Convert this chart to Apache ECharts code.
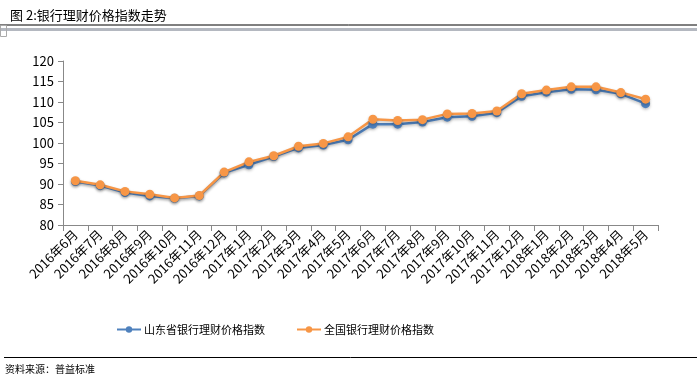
<!DOCTYPE html>
<html><head><meta charset="utf-8">
<script src="https://cdn.jsdelivr.net/npm/echarts@6/dist/echarts.min.js"></script>
<style>html,body{margin:0;padding:0;background:#fff}#c{width:697px;height:387px}</style>
</head><body><div id="c"></div>
<script>
const categories = ['2016年6月','2016年7月','2016年8月','2016年9月','2016年10月','2016年11月','2016年12月','2017年1月','2017年2月','2017年3月','2017年4月','2017年5月','2017年6月','2017年7月','2017年8月','2017年9月','2017年10月','2017年11月','2017年12月','2018年1月','2018年2月','2018年3月','2018年4月','2018年5月'];
const shandong = [90.6,89.6,87.9,87.1,86.5,87.1,92.7,94.7,96.7,98.8,99.5,100.8,104.6,104.6,105.1,106.3,106.5,107.4,111.4,112.4,113.1,113.0,112.0,109.6];
const national = [90.8,89.8,88.2,87.5,86.6,87.2,92.9,95.4,96.9,99.2,99.9,101.5,105.8,105.5,105.7,107.1,107.2,107.8,112.0,112.9,113.7,113.7,112.3,110.7];
const yTicks = [80,85,90,95,100,105,110,115,120];
const seriesNames = ['山东省银行理财价格指数','全国银行理财价格指数'];
const titleText = '图 2:银行理财价格指数走势';
const sourceText = '资料来源：普益标准';

const font = '"Noto Sans CJK SC","Microsoft YaHei",sans-serif';
const chart = echarts.init(document.getElementById('c'));
const mk = (name, data, color) => ({
  name, type: 'line', data, symbol: 'circle', symbolSize: 9,
  lineStyle: {color, width: 2.5, shadowColor: 'rgba(0,0,0,0.25)', shadowBlur: 3, shadowOffsetY: 1.5},
  itemStyle: {color, shadowColor: 'rgba(0,0,0,0.25)', shadowBlur: 3, shadowOffsetY: 1.5},
  animation: false
});
chart.setOption({
  animation: false,
  textStyle: {fontFamily: font},
  title: {text: titleText, left: 5, top: 4, textStyle: {fontSize: 13, fontWeight: 'normal', color: '#000', fontFamily: font}},
  grid: {left: 63, right: 39, top: 61, bottom: 162, containLabel: false},
  legend: {
    data: seriesNames, top: 319, left: 111, itemGap: 31, itemWidth: 24, itemHeight: 8,
    textStyle: {fontSize: 11, color: '#000', fontFamily: font, padding: [0,0,0,-2]}
  },
  xAxis: {
    type: 'category', data: categories, boundaryGap: true,
    axisLine: {lineStyle: {color: '#888', width: 1}},
    axisTick: {show: true, length: 6, lineStyle: {color: '#888'}},
    axisLabel: {rotate: 45, interval: 0, fontSize: 13, color: '#000', margin: 7, fontFamily: font}
  },
  yAxis: {
    type: 'value', min: yTicks[0], max: yTicks[yTicks.length-1], interval: 5,
    axisLine: {show: true, lineStyle: {color: '#888'}},
    axisTick: {show: true, length: 5, lineStyle: {color: '#888'}},
    splitLine: {show: false},
    axisLabel: {fontSize: 13, color: '#000', margin: 9, fontFamily: font}
  },
  series: [mk(seriesNames[0], shandong, '#4F81BD'), mk(seriesNames[1], national, '#F79646')],
  graphic: [
    {type: 'line', shape: {x1: 0, y1: 25, x2: 697, y2: 25}, style: {stroke: '#000', lineWidth: 1}},
    {type: 'rect', shape: {x: 0, y: 28, width: 697, height: 3}, style: {fill: '#b4b8c0'}},
    {type: 'rect', shape: {x: 0.5, y: 25.5, width: 6, height: 11}, style: {fill: 'none', stroke: '#aaa', lineWidth: 1}},
    {type: 'line', shape: {x1: 4, y1: 357.5, x2: 697, y2: 357.5}, style: {stroke: '#000', lineWidth: 1}},
    {type: 'text', left: 5, top: 364, style: {text: sourceText, fontSize: 10, fill: '#000', fontFamily: font}}
  ]
});
</script></body></html>
